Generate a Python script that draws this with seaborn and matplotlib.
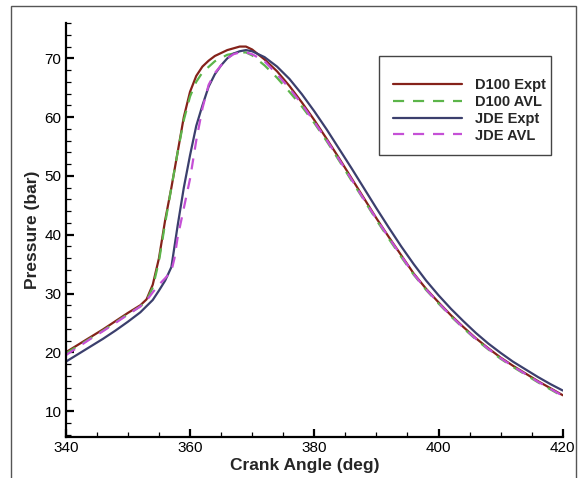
import numpy as np
import pandas as pd
import matplotlib.pyplot as plt
import matplotlib.patches as mpatches
from matplotlib.ticker import MultipleLocator
import seaborn as sns

# crank angle (deg) and cylinder pressure (bar)
ang_d100_expt = [340, 342, 344, 346, 348, 350, 352, 353, 354, 355, 356, 357, 358, 359, 360, 361, 362, 363, 364,
                 366, 368, 369, 370, 372, 374, 376, 378, 380, 382, 384, 386, 388, 390, 392, 394, 396, 398, 400,
                 402, 404, 406, 408, 410, 412, 414, 416, 418, 420]
p_d100_expt = [20.0, 21.3, 22.6, 23.9, 25.3, 26.7, 28.0, 29.0, 31.5, 36.0, 42.5, 48.0, 54.0, 60.0, 64.3, 67.0, 68.6,
               69.6, 70.4, 71.4, 72.0, 72.0, 71.5, 69.8, 67.8, 65.3, 62.5, 59.5, 56.3, 53.0, 49.6, 46.2, 42.8, 39.6,
               36.5, 33.4, 30.8, 28.5, 26.3, 24.3, 22.4, 20.7, 19.1, 17.7, 16.4, 15.1, 13.9, 12.7]

ang_d100_avl = [340, 342, 344, 346, 348, 350, 352, 353, 354, 355, 356, 357, 358, 359, 360, 361, 362, 364, 366,
                368, 369, 370, 372, 374, 376, 378, 380, 382, 384, 386, 388, 390, 392, 394, 396, 398, 400, 402,
                404, 406, 408, 410, 412, 414, 416, 418, 420]
p_d100_avl = [19.8, 21.1, 22.4, 23.7, 25.1, 26.5, 27.8, 28.8, 31.0, 35.5, 42.0, 48.0, 54.0, 59.5, 63.5, 66.0, 67.6,
              69.5, 70.6, 71.0, 71.0, 70.5, 68.8, 66.7, 64.3, 61.8, 59.0, 55.9, 52.6, 49.2, 45.9, 42.5, 39.3, 36.2,
              33.2, 30.6, 28.3, 26.1, 24.1, 22.2, 20.5, 18.9, 17.5, 16.2, 14.9, 13.7, 12.5]

ang_jde_expt = [340, 342, 344, 346, 348, 350, 352, 354, 355, 356, 357, 358, 359, 360, 361, 362, 363, 364, 365,
                366, 367, 368, 369, 370, 372, 374, 376, 378, 380, 382, 384, 386, 388, 390, 392, 394, 396, 398,
                400, 402, 404, 406, 408, 410, 412, 414, 416, 418, 420]
p_jde_expt = [18.4, 19.7, 21.0, 22.3, 23.7, 25.2, 26.8, 28.9, 30.5, 32.2, 34.5, 41.5, 48.0, 53.5, 58.5, 62.0, 65.2,
              67.3, 68.8, 70.0, 70.8, 71.2, 71.4, 71.2, 70.2, 68.6, 66.5, 63.9, 61.0, 57.9, 54.6, 51.3, 47.9, 44.5,
              41.2, 38.0, 35.0, 32.2, 29.7, 27.4, 25.3, 23.3, 21.5, 19.9, 18.4, 17.1, 15.8, 14.6, 13.5]

ang_jde_avl = [340, 342, 344, 346, 348, 350, 352, 353, 354, 355, 356, 357, 357.5, 358, 359, 360, 361, 362, 363,
               364, 365, 366, 367, 368, 369, 370, 372, 374, 376, 378, 380, 382, 384, 386, 388, 390, 392, 394,
               396, 398, 400, 402, 404, 406, 408, 410, 412, 414, 416, 418, 420]
p_jde_avl = [19.5, 20.9, 22.3, 23.6, 25.0, 26.4, 27.8, 28.8, 30.2, 31.5, 32.6, 33.8, 36.0, 39.5, 44.5, 49.5, 56.0,
             61.5, 65.5, 67.5, 68.8, 70.0, 70.7, 71.0, 71.0, 70.7, 69.5, 67.3, 64.9, 62.2, 59.2, 56.1, 52.8, 49.4,
             46.0, 42.7, 39.5, 36.4, 33.3, 30.7, 28.4, 26.2, 24.2, 22.3, 20.6, 19.0, 17.6, 16.3, 15.0, 13.8, 12.6]

labels = ['D100 Expt', 'D100 AVL', 'JDE Expt', 'JDE AVL']
angles = [ang_d100_expt, ang_d100_avl, ang_jde_expt, ang_jde_avl]
pressures = [p_d100_expt, p_d100_avl, p_jde_expt, p_jde_avl]

df = pd.concat([pd.DataFrame({'Crank Angle': a, 'Pressure': p, 'Caso': lab})
                for a, p, lab in zip(angles, pressures, labels)], ignore_index=True)

cores = {'D100 Expt': '#85221a', 'D100 AVL': '#5cb54a', 'JDE Expt': '#3b3f6d', 'JDE AVL': '#c550d6'}
tracos = {'D100 Expt': '', 'D100 AVL': (5, 4), 'JDE Expt': '', 'JDE AVL': (5, 4)}

sns.set_style('ticks')
plt.rcParams['font.family'] = ['Liberation Sans', 'DejaVu Sans']

fig = plt.figure(figsize=(5.82, 4.78), dpi=100)
ax = fig.add_axes([0.113, 0.0858, 0.854, 0.866])

sns.lineplot(data=df, x='Crank Angle', y='Pressure', hue='Caso', style='Caso', palette=cores, dashes=tracos,
             estimator=None, sort=False, linewidth=1.6, ax=ax)

ax.set_xlim(340, 420)
ax.set_ylim(5.6, 76)
ax.xaxis.set_major_locator(MultipleLocator(20))
ax.xaxis.set_minor_locator(MultipleLocator(5))
ax.yaxis.set_major_locator(MultipleLocator(10))
ax.yaxis.set_minor_locator(MultipleLocator(2))
ax.set_yticks([10, 20, 30, 40, 50, 60, 70])

sns.despine(ax=ax)
for s in ['left', 'bottom']:
    ax.spines[s].set_linewidth(1.6)
    ax.spines[s].set_color('black')
ax.tick_params(which='major', direction='in', length=6, width=1.6, labelsize=11, pad=3, colors='black')
ax.tick_params(which='minor', direction='in', length=3.5, width=0.9, colors='black')

ax.set_xlabel('Crank Angle (deg)', fontsize=12.5, fontweight='bold', labelpad=0)
ax.set_ylabel('Pressure (bar)', fontsize=12.5, fontweight='bold', labelpad=3)
ax.xaxis.set_label_coords(0.481, -0.05)

# legenda sem moldura + retangulo desenhado a parte
leg = ax.legend(loc='upper left', bbox_to_anchor=(0.63, 0.903), frameon=False, fontsize=10.5,
                handlelength=4.7, handletextpad=0.9, labelspacing=0.2, borderpad=1.0, borderaxespad=0)
for t in leg.get_texts():
    t.set_fontweight('bold')
ax.add_patch(mpatches.Rectangle((0.630, 0.681), 0.346, 0.239, transform=ax.transAxes, fill=False,
                                edgecolor='#444444', linewidth=1.0, zorder=5))

# moldura cinza em volta da figura
fig.patches.append(mpatches.Rectangle((0.019, -0.01), 0.971, 0.997, transform=fig.transFigure,
                                      fill=False, edgecolor='#555555', linewidth=1.0))

fig.savefig('out.png', dpi=100)
